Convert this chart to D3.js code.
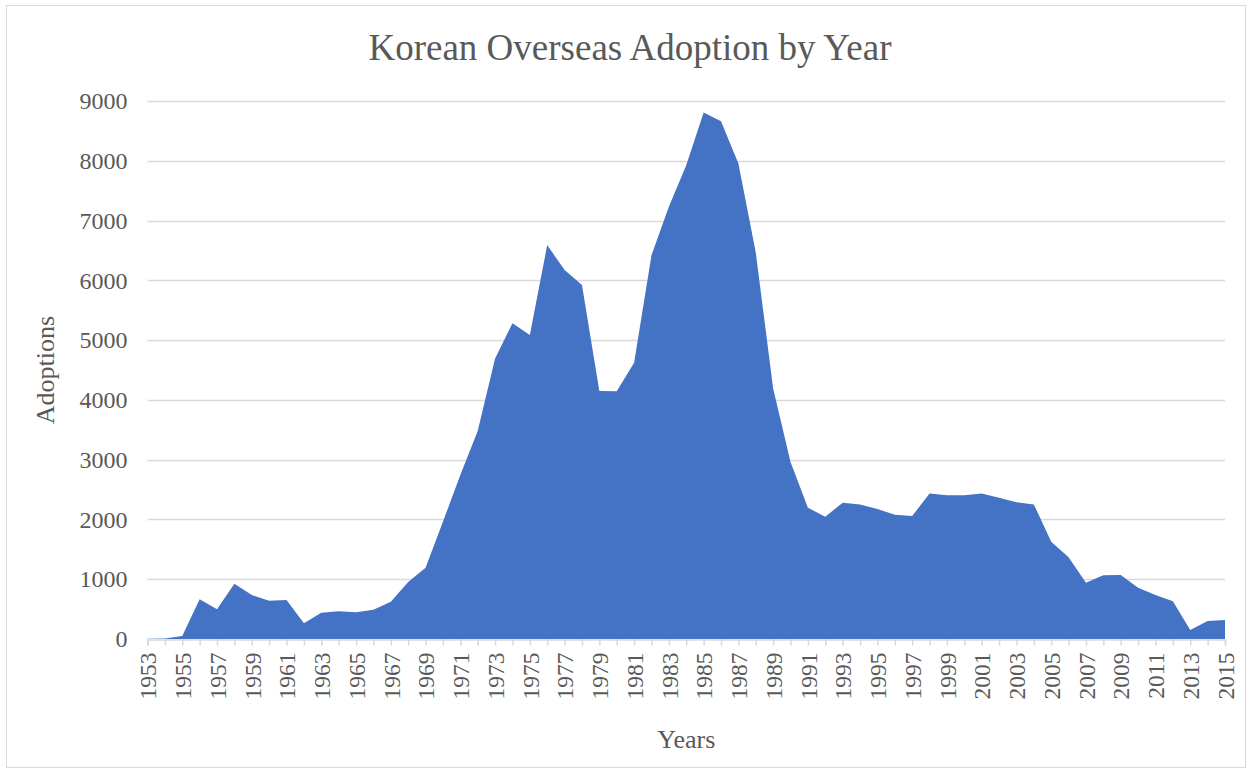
<!DOCTYPE html>
<html>
<head>
<meta charset="utf-8">
<script src="https://cdn.jsdelivr.net/npm/d3@7"></script>
<style>
  body { margin: 0; background: #fff; }
  text { font-family: "Liberation Serif", "Times New Roman", serif; fill: #595959; }
</style>
</head>
<body>
<div id="chart"></div>
<script>
// years and adoption counts
var years = d3.range(1953, 2016)
var adoptions = [
  4, 8, 50, 663, 496, 925, 736, 640, 652, 262,
  440, 463, 446, 490, 624, 955, 1190, 1962, 2742, 3478,
  4694, 5280, 5084, 6589, 6171, 5920, 4147, 4144, 4620, 6421,
  7230, 7926, 8807, 8662, 7955, 6466, 4190, 2962, 2196, 2046,
  2280, 2252, 2174, 2080, 2057, 2436, 2403, 2403, 2436, 2365,
  2286, 2252, 1628, 1366, 942, 1065, 1070, 858, 736, 630,
  150, 301, 318
]
var yTicks = [0, 1000, 2000, 3000, 4000, 5000, 6000, 7000, 8000, 9000]
var labelYears = years.filter(function(y) { return (y - 1953) % 2 == 0 })

var chartTitle = "Korean Overseas Adoption by Year"

var setup = function()
{
    var screen = {width: 1252, height: 769}
    var margins = {top: 101, bottom: 130, left: 147.5, right: 27}

    var width = screen.width - margins.left - margins.right
    var height = screen.height - margins.top - margins.bottom

    var xScale = d3.scaleLinear()
                    .domain([1953, 2015])
                    .range([0, width])

    var yScale = d3.scaleLinear()
                    .domain([0, 9000])
                    .range([height, 0])

    var svg = d3.select("#chart")
    .append("svg")
    .attr("width", screen.width)
    .attr("height", screen.height)

    // chart border
    svg.append("rect")
    .attr("x", 6.5)
    .attr("y", 5.5)
    .attr("width", 1239)
    .attr("height", 762)
    .attr("fill", "white")
    .attr("stroke", "#d9d9d9")
    .attr("stroke-width", 1)

    svg.append("text")
    .attr("x", 630)
    .attr("y", 60)
    .attr("text-anchor", "middle")
    .style("font-size", "37px")
    .text(chartTitle)

    var plot = svg.append("g")
    .attr("transform", "translate(" + margins.left + "," + margins.top + ")")

    // gridlines
    plot.append("g")
    .selectAll("line")
    .data(yTicks.slice(1))
    .enter()
    .append("line")
    .attr("x1", 0)
    .attr("x2", width)
    .attr("y1", function(d) { return Math.round(yScale(d)) + 0.5 })
    .attr("y2", function(d) { return Math.round(yScale(d)) + 0.5 })
    .attr("stroke", "#d9d9d9")
    .attr("stroke-width", 1.5)

    // the area
    var area = d3.area()
    .x(function(d, i) { return xScale(years[i]) })
    .y0(yScale(0))
    .y1(function(d) { return yScale(d) })

    plot.append("path")
    .datum(adoptions)
    .attr("d", area)
    .attr("fill", "#4472c4")

    // y axis labels
    var yAxis = d3.axisLeft(yScale)
    .tickValues(yTicks)
    .tickSize(0)
    .tickPadding(20)
    .tickFormat(d3.format("d"))

    var yG = plot.append("g").call(yAxis)
    yG.select(".domain").remove()
    yG.selectAll("text")
    .style("font-size", "24px")
    .style("font-family", "Liberation Serif")
    .attr("fill", "#595959")

    // x axis
    var xAxis = d3.axisBottom(xScale)
    .tickValues(years)
    .tickSize(6)
    .tickFormat(function(d) { return labelYears.indexOf(d) >= 0 ? d : "" })

    var xG = plot.append("g")
    .attr("transform", "translate(0," + (height + 0.5) + ")")
    .call(xAxis)
    xG.select(".domain").attr("stroke", "#d9d9d9").attr("stroke-width", 1.5)
    xG.selectAll(".tick line").attr("stroke", "#d9d9d9").attr("stroke-width", 1.5)
    xG.selectAll("text")
    .style("font-size", "23.5px")
    .style("font-family", "Liberation Serif")
    .attr("fill", "#595959")
    .attr("transform", "rotate(-90)")
    .attr("text-anchor", "end")
    .attr("x", -13)
    .attr("y", 0)
    .attr("dy", "0.35em")

    // axis titles
    svg.append("text")
    .attr("transform", "translate(54," + (margins.top + height / 2) + ") rotate(-90)")
    .attr("text-anchor", "middle")
    .style("font-size", "26px")
    .text("Adoptions")

    svg.append("text")
    .attr("x", margins.left + width / 2)
    .attr("y", 748)
    .attr("text-anchor", "middle")
    .style("font-size", "26px")
    .text("Years")
}

setup()
</script>
</body>
</html>
